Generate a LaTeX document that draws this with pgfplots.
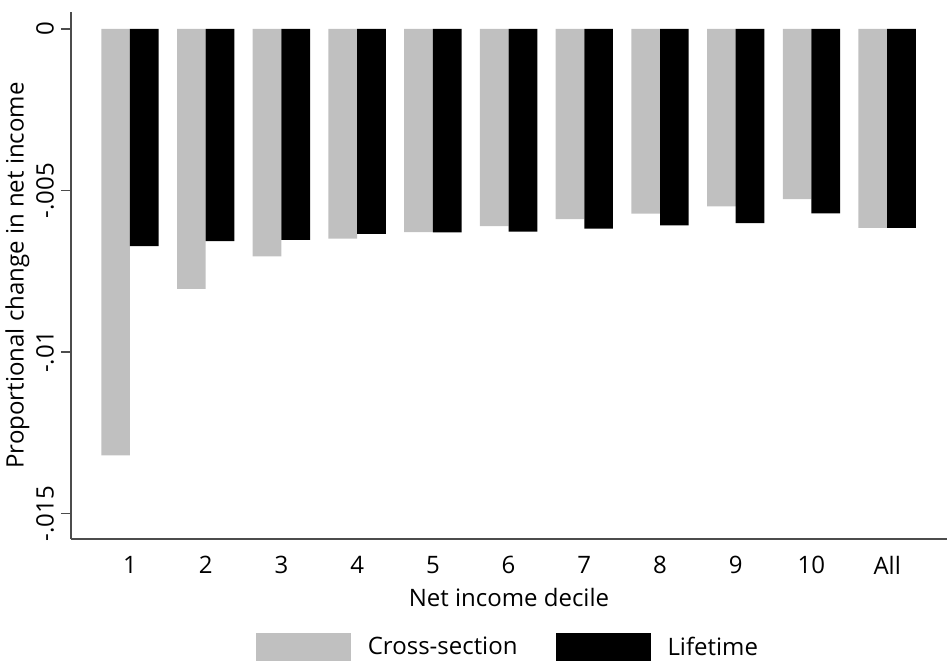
\documentclass[border=0pt]{standalone}
\usepackage{fontspec}
\setmainfont{Open Sans}
\usepackage{pgfplots}
\pgfplotsset{compat=1.18}
\definecolor{csgray}{RGB}{192,192,192}
\begin{document}
\begin{tikzpicture}
\useasboundingbox (-35.5pt,-62.5pt) rectangle (438.5pt,269.5pt);
\begin{axis}[
  scale only axis, width=438pt, height=263.5pt,
  xmin=0.221, xmax=11.79, ymin=-0.01579, ymax=0.000526,
  axis x line*=bottom, axis y line*=left,
  axis line style={black!70, line width=0.8pt, -},
  font=\fontsize{12}{14}\selectfont,
  ybar, bar width=14.35pt,
  scaled y ticks=false,
  xtick={1,2,3,4,5,6,7,8,9,10,11},
  xticklabels={1,2,3,4,5,6,7,8,9,10,All},
  xtick style={draw=none},
  ytick={0,-0.005,-0.01,-0.015},
  yticklabels={0,-.005,-.01,-.015},
  ytick style={black!70, line width=0.8pt},
  tick align=outside, major tick length=5pt,
  yticklabel style={rotate=90, anchor=south},
  xlabel={Net income decile},
  ylabel={Proportional change in net income},
  ylabel style={yshift=-3.5pt},
  legend columns=2,
  legend style={draw=none, inner sep=0pt, outer sep=0pt, at={(0.211,-0.178)}, anchor=north west,
    /tikz/every even column/.append style={column sep=17pt}},
  legend image code/.code={\fill[#1] (0pt,-7pt) rectangle (47.5pt,7pt);\path[draw=none,fill=none] (47.5pt,0pt) rectangle (54pt,0.1pt);},
]
\addplot[fill=csgray, draw=none, bar shift=-7.17pt] coordinates {
(1,-0.01320) (2,-0.00805) (3,-0.00704) (4,-0.00649) (5,-0.00629) (6,-0.00610)
(7,-0.00589) (8,-0.00572) (9,-0.00549) (10,-0.00527) (11,-0.00616)};
\addlegendentry{Cross-section}
\addplot[fill=black, draw=none, bar shift=7.17pt] coordinates {
(1,-0.00672) (2,-0.00657) (3,-0.00653) (4,-0.00634) (5,-0.00630) (6,-0.00627)
(7,-0.00618) (8,-0.00608) (9,-0.00601) (10,-0.00571) (11,-0.00616)};
\addlegendentry{Lifetime}
\end{axis}
\end{tikzpicture}
\end{document}
